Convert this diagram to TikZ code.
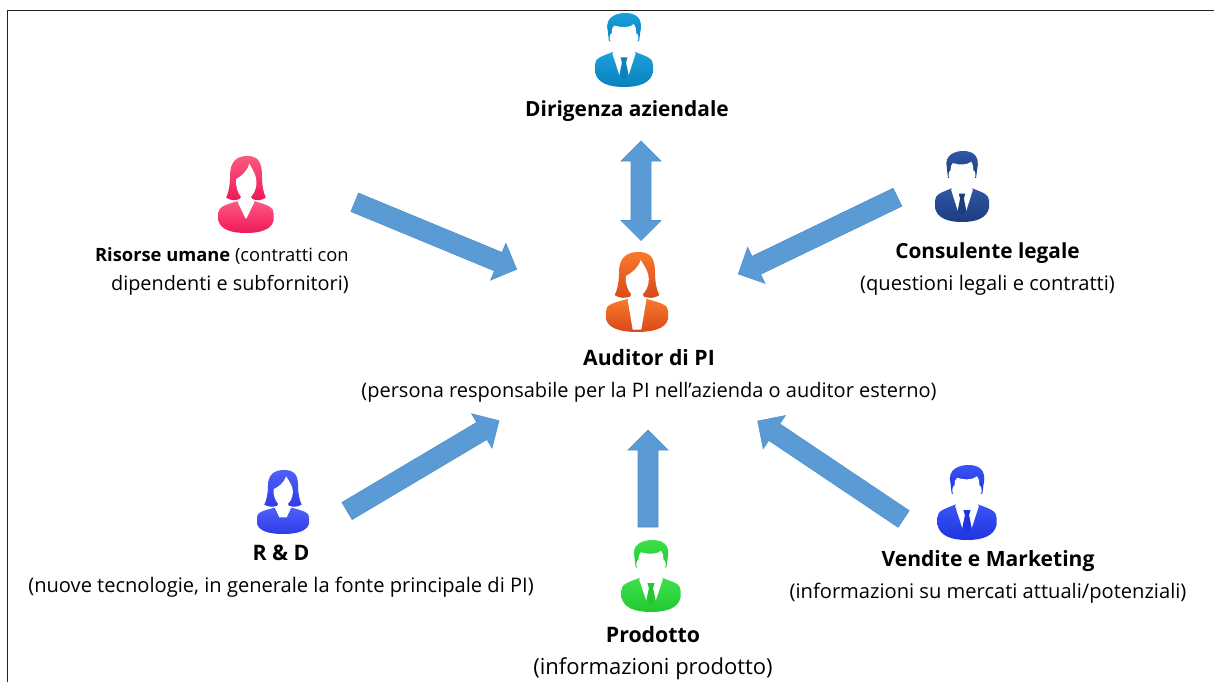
\documentclass[tikz,border=0pt]{standalone}
\usepackage{fontspec}
\setmainfont{Open Sans}
\usetikzlibrary{calc}
\definecolor{arrowblue}{HTML}{5B9BD5}
\definecolor{arrowedge}{HTML}{4F8FCB}
\definecolor{frameline}{HTML}{222222}
\definecolor{dirA}{HTML}{0A80BC}\definecolor{dirB}{HTML}{1BA1DC}
\definecolor{risA}{HTML}{F0185A}\definecolor{risB}{HTML}{FB5A7E}
\definecolor{audA}{HTML}{D9481A}\definecolor{audB}{HTML}{F97A2C}
\definecolor{conA}{HTML}{1D3C7E}\definecolor{conB}{HTML}{3058A5}
\definecolor{rdA}{HTML}{2E3CE8}\definecolor{rdB}{HTML}{5060F8}
\definecolor{proA}{HTML}{22C832}\definecolor{proB}{HTML}{3CE04A}
\definecolor{venA}{HTML}{1E34E0}\definecolor{venB}{HTML}{3A55F5}
\newcommand{\fsz}[2][24]{\fontsize{#2pt}{#1pt}\selectfont}
\newcommand{\baseris}{\fontsize{14pt}{21.75pt}\selectfont}
\newcommand{\basetxt}{\fontsize{15pt}{24pt}\selectfont}
% block arrow between two named coordinates
\newcommand{\blockarrow}[2]{%
  \coordinate (hb) at ($(#2)!15pt!(#1)$);
  \fill[arrowblue,draw=arrowedge,line width=0.4pt,line join=miter]
    ($(#1)!7.5pt!90:(#2)$) -- ($(hb)!7.5pt!90:(#2)$) -- ($(hb)!15pt!90:(#2)$) -- (#2)
    -- ($(hb)!15pt!-90:(#2)$) -- ($(hb)!7.5pt!-90:(#2)$) -- ($(#1)!7.5pt!-90:(#2)$) -- cycle;}
\newcommand{\blocktwo}[2]{%
  \coordinate (hb) at ($(#2)!15pt!(#1)$);
  \coordinate (ha) at ($(#1)!15pt!(#2)$);
  \fill[arrowblue,draw=arrowedge,line width=0.4pt,line join=miter]
    (#1) -- ($(ha)!15pt!90:(#2)$) -- ($(ha)!7.5pt!90:(#2)$) -- ($(hb)!7.5pt!90:(#2)$) -- ($(hb)!15pt!90:(#2)$) -- (#2)
    -- ($(hb)!15pt!-90:(#2)$) -- ($(hb)!7.5pt!-90:(#2)$) -- ($(ha)!7.5pt!-90:(#2)$) -- ($(ha)!15pt!-90:(#2)$) -- cycle;}
\tikzset{
  x=0.75pt,y=-0.75pt,
  label text/.style={align=center,inner sep=0pt,text=black,font=\basetxt},
  pics/manicon/.style n args={2}{code={
    \shade[top color=#2,bottom color=#1] (-.50,.70) .. controls (-.50,.61) and (-.40,.59) .. (-.17,.52) -- (.17,.52) .. controls (.40,.59) and (.50,.61) .. (.50,.70) -- (.50,.80) .. controls (.46,.95) and (.25,1) .. (0,1) .. controls (-.25,1) and (-.46,.95) .. (-.50,.80) -- cycle;
    \shade[top color=#2,bottom color=#1] (-.28,.24) .. controls (-.34,.05) and (-.12,0) .. (.02,0) .. controls (.18,0) and (.34,.05) .. (.28,.26) -- (.26,.38) -- (-.26,.38) -- cycle;
    \fill[white] (-.21,.27) .. controls (-.21,.22) and (-.20,.19) .. (-.17,.17) .. controls (-.05,.20) and (.10,.20) .. (.17,.15) .. controls (.21,.20) and (.21,.23) .. (.21,.27) .. controls (.25,.28) and (.27,.37) .. (.22,.39) .. controls (.20,.46) and (.17,.50) .. (.17,.50) -- (.20,.55) -- (.08,.84) -- (-.08,.84) -- (-.20,.55) -- (-.17,.50) .. controls (-.17,.50) and (-.20,.46) .. (-.22,.39) .. controls (-.27,.37) and (-.25,.28) .. (-.21,.27) -- cycle;
    \fill[#1] (-.06,.60) -- (.06,.60) -- (.035,.67) -- (.08,.84) -- (0,.90) -- (-.08,.84) -- (-.035,.67) -- cycle;
  }},
  pics/womanicon/.style n args={4}{code={
    \shade[top color=#2,bottom color=#1] (-.50,.74) .. controls (-.50,.66) and (-.40,.64) .. (-.17,.59) -- (.17,.59) .. controls (.40,.64) and (.50,.66) .. (.50,.74) -- (.50,.84) .. controls (.46,.96) and (.25,1) .. (0,1) .. controls (-.25,1) and (-.46,.96) .. (-.50,.84) -- cycle;
    \shade[top color=#2,bottom color=#1] (-.29,.25) .. controls (-.29,.06) and (-.15,0) .. (.02,0) .. controls (.20,0) and (.29,.06) .. (.29,.25) .. controls (.29,.38) and (.32,.48) .. (.36,.54) .. controls (.28,.58) and (.20,.58) .. (.12,.56) -- (-.12,.56) .. controls (-.20,.58) and (-.28,.58) .. (-.36,.54) .. controls (-.32,.48) and (-.29,.38) .. (-.29,.25) -- cycle;
    \fill[white] (-.18,.30) .. controls (-.08,.26) and (.02,.20) .. (.06,.10) .. controls (.14,.20) and (.19,.26) .. (.19,.34) .. controls (.19,.44) and (.13,.50) .. (.09,.53) -- (.15,.60) -- (#3,#4) -- (-#3,#4) -- (-.15,.60) -- (-.09,.53) .. controls (-.15,.48) and (-.19,.40) .. (-.18,.30) -- cycle;
  }}
}
\begin{document}
\begin{tikzpicture}
\useasboundingbox (0,0) rectangle (1214,682);
\fill[white] (0,0) rectangle (1214,682);
\coordinate (frameBL) at (7.5,682);
\coordinate (frameTL) at (7.5,10.5);
\coordinate (frameTR) at (1214,10.5);
\draw[frameline,line width=0.9pt] (frameBL) -- (frameTL) -- (frameTR);

\pic[xscale=58,yscale=74] at (624,13) {manicon={dirA}{dirB}};
\pic[xscale=55,yscale=77] at (246,156) {womanicon={risA}{risB}{.01}{.81}};
\pic[xscale=62,yscale=80] at (637,252) {womanicon={audA}{audB}{.07}{.97}};
\pic[xscale=54,yscale=71] at (962,151) {manicon={conA}{conB}};
\pic[xscale=52,yscale=64] at (283,470) {womanicon={rdA}{rdB}{.07}{.74}};
\pic[xscale=59,yscale=72] at (651,540) {manicon={proA}{proB}};
\pic[xscale=59,yscale=75] at (967,465) {manicon={venA}{venB}};

\node[label text] (dir) at (627,111.5) {\fsz{15.66}\textbf{Dirigenza aziendale}};
\node[label text,align=right,anchor=east,font=\baseris] (ris) at (349,271.5) {\fsz[21.75]{13.75}\textbf{Risorse umane} (contratti con\\\fsz[21.75]{14.9}dipendenti e subfornitori)};
\node[label text] (con) at (987.5,269.5) {\fsz{15.6}\textbf{Consulente legale}\\\fsz{15.1}(questioni legali e contratti)};
\node[label text] (aud) at (649,376) {\fsz{15.9}\textbf{Auditor di PI}\\\fsz{15}(persona responsabile per la PI nell’azienda o auditor esterno)};
\node[label text] (rd) at (281,571) {\fsz{16}\textbf{R \& D}\\\fsz{15.07}(nuove tecnologie, in generale la fonte principale di PI)};
\node[label text] (ven) at (988,576.5) {\fsz{15.8}\textbf{Vendite e Marketing}\\\fsz{15.1}(informazioni su mercati attuali/potenziali)};
\node[label text] (pro) at (653,653.5) {\fsz{16}\textbf{Prodotto}\\\fsz{16.5}(informazioni prodotto)};

\coordinate (a1s) at (641,141);
\coordinate (a1e) at (641,240.5);
\coordinate (a2s) at (354.7,202.3);
\coordinate (a2e) at (516.7,269.3);
\coordinate (a3s) at (897.5,197.2);
\coordinate (a3e) at (738.3,274);
\coordinate (a4s) at (347,511);
\coordinate (a4e) at (499,420.7);
\coordinate (a5s) at (648,527);
\coordinate (a5e) at (648,430);
\coordinate (a6s) at (903.7,519);
\coordinate (a6e) at (757.7,421);
\blocktwo{a1s}{a1e}
\blockarrow{a2s}{a2e}
\blockarrow{a3s}{a3e}
\blockarrow{a4s}{a4e}
\blockarrow{a5s}{a5e}
\blockarrow{a6s}{a6e}
\end{tikzpicture}
\end{document}
